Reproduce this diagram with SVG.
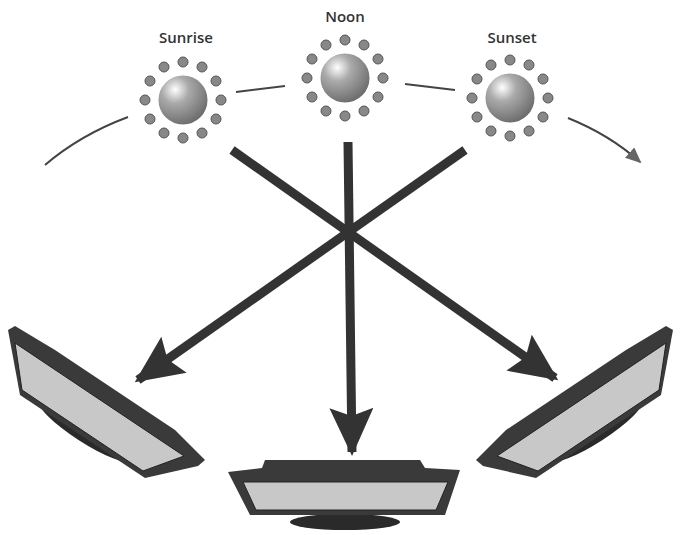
<svg xmlns="http://www.w3.org/2000/svg" width="681" height="535" viewBox="0 0 681 535">
<style>
.lbl{font-family:"Open Sans","Liberation Sans",sans-serif;font-size:15px;font-weight:600;fill:#333;text-anchor:middle}
.arc{fill:none;stroke:#444;stroke-width:2}
.beam{stroke:#333;stroke-width:9;fill:none}
.frame{fill:#3a3a3a}
.glass{fill:#c8c8c8;stroke:#222;stroke-width:1}
</style>
<defs>
<radialGradient id="ball" cx="0.35" cy="0.3" r="0.75">
<stop offset="0" stop-color="#fff"/><stop offset="0.35" stop-color="#aaa"/><stop offset="1" stop-color="#666"/>
</radialGradient>
<g id="sun">
<g fill="#888" stroke="#555" stroke-width="1">
<circle cx="0" cy="-38" r="5"/><circle cx="19" cy="-33" r="5"/><circle cx="33" cy="-19" r="5"/><circle cx="38" cy="0" r="5"/>
<circle cx="33" cy="19" r="5"/><circle cx="19" cy="33" r="5"/><circle cx="0" cy="38" r="5"/><circle cx="-19" cy="33" r="5"/>
<circle cx="-33" cy="19" r="5"/><circle cx="-38" cy="0" r="5"/><circle cx="-33" cy="-19" r="5"/><circle cx="-19" cy="-33" r="5"/>
</g>
<circle r="26" fill="url(#ball)" stroke="#fff" stroke-width="3"/>
</g>
<marker id="ah" markerWidth="16" markerHeight="14" refX="14" refY="7" orient="auto" markerUnits="userSpaceOnUse"><path d="M0,0L16,7L0,14z" fill="#666"/></marker>
<marker id="big" markerWidth="50" markerHeight="44" refX="44" refY="22" orient="auto" markerUnits="userSpaceOnUse"><path d="M0,0L48,22L0,44L8,22z" fill="#333"/></marker>
</defs>
<g id="connectors">
<path class="arc" d="M45,165 Q80,135 128,117"/>
<path class="arc" d="M236,92 L285,86"/>
<path class="arc" d="M405,84 L455,90"/>
<path class="arc" d="M568,118 Q610,135 640,162" marker-end="url(#ah)"/>
<line class="beam" x1="232" y1="150" x2="555" y2="378" marker-end="url(#big)"/>
<line class="beam" x1="348" y1="142" x2="352" y2="452" marker-end="url(#big)"/>
<line class="beam" x1="465" y1="150" x2="138" y2="380" marker-end="url(#big)"/>
</g>
<g id="sunrise"><use href="#sun" x="183" y="100"/><text class="lbl" x="186" y="43">Sunrise</text></g>
<g id="noon"><use href="#sun" x="345" y="78"/><text class="lbl" x="345" y="22">Noon</text></g>
<g id="sunset"><use href="#sun" x="510" y="98"/><text class="lbl" x="512" y="43">Sunset</text></g>
<g id="panel-left">
<ellipse cx="85" cy="430" rx="55" ry="12" transform="rotate(33 85 430)" fill="#2a2a2a"/>
<path class="frame" d="M8,330 L15,326 L55,350 L175,430 L205,460 L198,466 L145,478 L20,395 Z"/>
<path class="glass" d="M15,343 L184,456 L143,471 L22,390 Z"/>
</g>
<g id="panel-middle">
<ellipse cx="345" cy="522" rx="55" ry="8" fill="#2a2a2a"/>
<path class="frame" d="M228,472 L262,468 L265,460 L420,460 L425,468 L460,470 L445,515 L250,515 Z"/>
<path class="glass" d="M243,482 L448,482 L436,510 L256,510 Z"/>
</g>
<g id="panel-right">
<ellipse cx="596" cy="430" rx="55" ry="12" transform="rotate(-33 596 430)" fill="#2a2a2a"/>
<path class="frame" d="M673,330 L666,326 L626,350 L506,430 L476,460 L483,466 L536,478 L661,395 Z"/>
<path class="glass" d="M666,343 L497,456 L538,471 L659,390 Z"/>
</g>
</svg>
